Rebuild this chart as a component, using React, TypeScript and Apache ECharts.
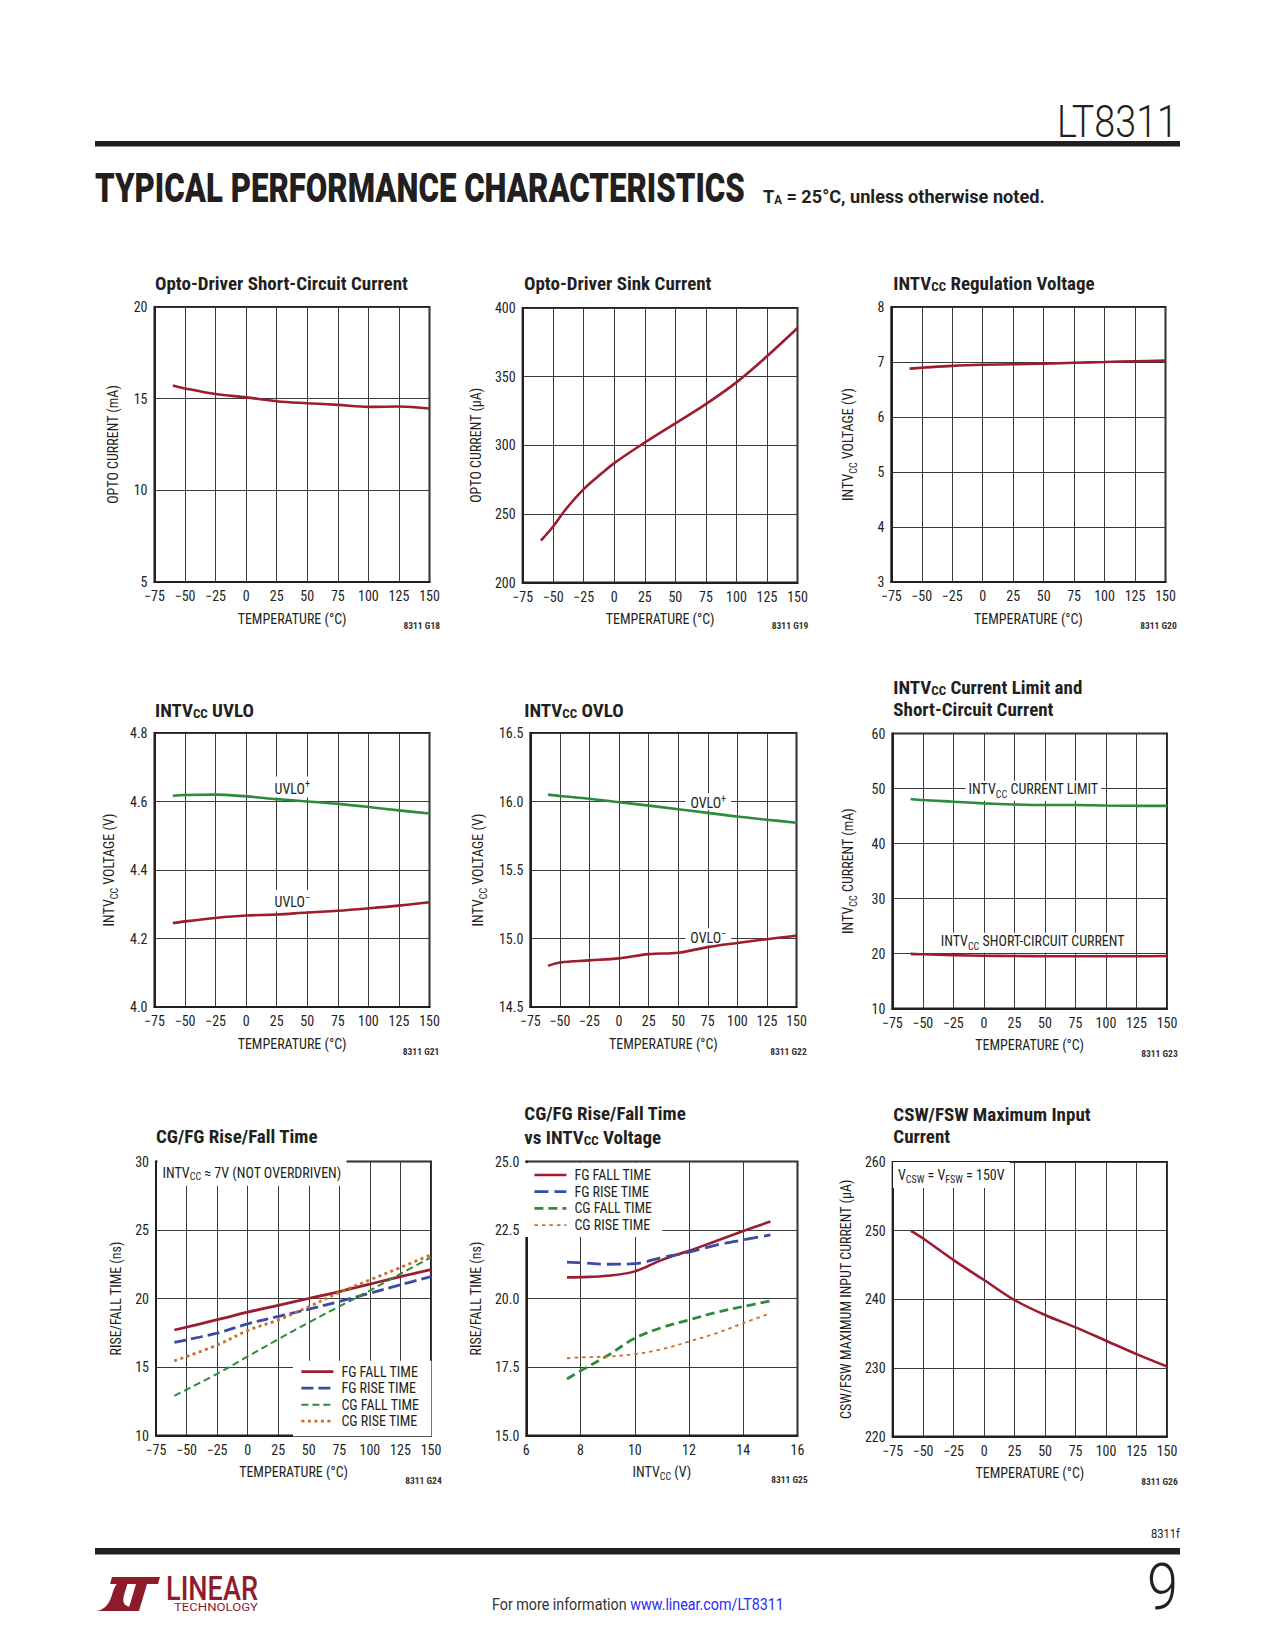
import React, { useEffect, useRef } from "react";
import * as echarts from "echarts";

const FONT = '"Liberation Sans Narrow", "Roboto Condensed", Roboto, "Liberation Sans", sans-serif';
const HFONT = 'Roboto, "Liberation Sans", sans-serif';
const INK = "#231f20";
const GRIDC = "#3a3a3a";
const RED = "#9d1c2f";
const GREEN = "#2e8b3c";
const BLUE = "#3a4ba6";
const ORANGE = "#c96f2a";
const LOGO = "#8e1b2c";
const LINK = "#2b2bf5";

// ---------------- data ----------------
const tempX = [-60, -50, -25, 0, 25, 50, 75, 100, 125, 150];
const optoShort = [15.72, 15.56, 15.25, 15.07, 14.86, 14.75, 14.66, 14.55, 14.57, 14.46];
const sinkX = [-60, -50, -40, -25, -10, 0, 25, 50, 75, 100, 125, 150];
const optoSink = [230.6, 240.8, 253, 268, 279.7, 287, 302, 316, 330, 345.8, 364.8, 385.4];
const intvccReg = [6.88, 6.895, 6.93, 6.95, 6.96, 6.97, 6.985, 7.0, 7.015, 7.025];
const uvloPlus = [4.617, 4.619, 4.62, 4.615, 4.607, 4.6, 4.593, 4.584, 4.574, 4.565];
const uvloMinus = [4.245, 4.25, 4.26, 4.267, 4.27, 4.276, 4.281, 4.288, 4.296, 4.306];
const ovloPlus = [16.05, 16.04, 16.02, 15.995, 15.97, 15.944, 15.917, 15.89, 15.867, 15.845];
const ovloMinus = [14.8, 14.825, 14.84, 14.855, 14.886, 14.896, 14.937, 14.967, 14.995, 15.02];
const currentLimit = [48.1, 47.9, 47.6, 47.3, 47.1, 47.0, 47.0, 46.9, 46.85, 46.85];
const shortCircuit = [19.94, 19.85, 19.7, 19.6, 19.55, 19.5, 19.5, 19.5, 19.5, 19.55];
const rfTempX = [-60, -25, 0, 25, 50, 75, 100, 125, 150];
const fgFallT = [17.7, 18.45, 19.0, 19.5, 20.0, 20.5, 21.05, 21.6, 22.1];
const fgRiseT = [16.8, 17.47, 18.15, 18.69, 19.22, 19.78, 20.39, 21.0, 21.6];
const cgFallT = [12.9, 14.5, 15.77, 17.03, 18.25, 19.42, 20.58, 21.8, 23.0];
const cgRiseT = [15.45, 16.6, 17.66, 18.44, 19.4, 20.44, 21.36, 22.26, 23.2];
const intvX = [7.5, 8, 9, 10, 11, 12, 13, 14, 15];
const fgFallV = [20.77, 20.78, 20.83, 20.99, 21.41, 21.74, 22.1, 22.46, 22.81];
const fgRiseV = [21.33, 21.31, 21.25, 21.27, 21.5, 21.69, 21.95, 22.14, 22.32];
const cgFallV = [17.06, 17.36, 17.92, 18.55, 18.94, 19.22, 19.49, 19.71, 19.91];
const cgRiseV = [17.82, 17.85, 17.88, 17.97, 18.15, 18.43, 18.73, 19.1, 19.46];
const maxInput = [249.96, 248.85, 245.7, 242.8, 239.88, 237.7, 235.9, 233.96, 232.0, 230.2];
const rfNames = ["FG FALL TIME", "FG RISE TIME", "CG FALL TIME", "CG RISE TIME"];

// ---------------- logo shape ----------------
const LOGO_D =
  "M0 34 C9 33 13 27 16 18 C18 11 20 7 23 5 L32 5 L28 18 C26 25 28 30 36 30 L35 34 Z " +
  "M16 0 L64 0 L62 7 L51 7 L43 34 L32 34 L40 7 L14 7 Z";
echarts.graphic.registerShape("ltLogo", echarts.graphic.extendPath(LOGO_D, {}));

// ---------------- helpers ----------------
const minusFmt = (v: number) => (v < 0 ? "\u2212" + Math.abs(v) : String(v));
const fixedFmt = (d: number) => (v: number) => v.toFixed(d);
const SUB_AXIS = { s: { fontSize: 10, lineHeight: 10, verticalAlign: "bottom", fontFamily: FONT, color: INK } };

function xAxisCfg(min: number, max: number, interval: number, name: string, rich = false, fmt: any = minusFmt) {
  return {
    type: "value", min, max, interval,
    axisLine: { show: true, onZero: false, lineStyle: { color: INK, width: 2 } },
    axisTick: { show: false },
    splitLine: { show: true, lineStyle: { color: GRIDC, width: 1 } },
    axisLabel: { color: INK, fontSize: 14, fontFamily: FONT, margin: 7, formatter: fmt },
    name, nameLocation: "middle", nameGap: rich ? 26 : 28.5,
    nameTextStyle: { color: INK, fontSize: 14, fontFamily: FONT, lineHeight: rich ? 20 : 16, rich: rich ? SUB_AXIS : undefined },
  };
}
function yAxisCfg(min: number, max: number, interval: number, name: string, gap: number, rich = false, fmt: any = (v: number) => String(v)) {
  return {
    type: "value", min, max, interval,
    axisLine: { show: true, onZero: false, lineStyle: { color: INK, width: 2 } },
    axisTick: { show: false },
    splitLine: { show: true, lineStyle: { color: GRIDC, width: 1 } },
    axisLabel: { color: INK, fontSize: 14, fontFamily: FONT, margin: 7, formatter: fmt },
    name, nameLocation: "middle", nameGap: gap,
    nameTextStyle: { color: INK, fontSize: 14, fontFamily: FONT, lineHeight: rich ? 20 : 16, rich: rich ? SUB_AXIS : undefined },
  };
}
function ln(name: string, xs: number[], ys: number[], color: string, width = 2.6, type: any = "solid", extra: any = {}) {
  return {
    type: "line", name, data: xs.map((x, i) => [x, ys[i]]), symbol: "none", smooth: 0.35, silent: true,
    lineStyle: { color, width, type, cap: "butt" }, itemStyle: { color }, z: 3, ...extra,
  };
}
function tag(x: number, y: number, text: string, rich: any, pad: number[] = [2, 3], lh = 18) {
  return {
    coord: [x, y], symbol: "rect", symbolSize: 1, itemStyle: { color: "rgba(0,0,0,0)" },
    label: { show: true, position: "inside", formatter: text, color: INK, fontSize: 14, fontFamily: FONT, backgroundColor: "#fff", padding: pad, lineHeight: lh, rich },
  };
}
function marks(...data: any[]) {
  return { markPoint: { silent: true, z: 2, data } };
}
const SUP = {
  n: { fontSize: 14, lineHeight: 17, verticalAlign: "bottom", color: INK, fontFamily: FONT },
  p: { fontSize: 10, lineHeight: 10, verticalAlign: "top", color: INK, fontFamily: FONT },
};
const SUBL = {
  n: { fontSize: 14, lineHeight: 18, verticalAlign: "top", color: INK, fontFamily: FONT },
  s: { fontSize: 10, lineHeight: 10, verticalAlign: "bottom", color: INK, fontFamily: FONT },
};

function titleEl(x: number, y: number, text: string, rich = false) {
  const style: any = { text, fill: INK, fontFamily: FONT, fontSize: 19, fontWeight: "bold", align: "left", verticalAlign: "middle" };
  let yy = y;
  if (rich) {
    yy = y - 2.5;
    style.lineHeight = 25;
    style.rich = {
      b: { fontSize: 19, fontWeight: "bold", fontFamily: FONT, fill: INK, lineHeight: 25, verticalAlign: "bottom" },
      s: { fontSize: 13, fontWeight: "bold", fontFamily: FONT, fill: INK, lineHeight: 13, verticalAlign: "bottom" },
    };
  }
  return { type: "text", x, y: yy, silent: true, style };
}
function codeEl(x: number, y: number, text: string) {
  return { type: "text", x, y, silent: true, style: { text, fill: "#333", fontFamily: FONT, fontSize: 9.5, fontWeight: "bold", align: "right", verticalAlign: "middle" } };
}
function noteEl(x: number, y: number, text: string) {
  return {
    type: "text", x, y, z: 50, silent: true,
    style: {
      text, fill: INK, fontFamily: FONT, fontSize: 14, lineHeight: 18, align: "left", verticalAlign: "middle",
      backgroundColor: "#fff", padding: [4, 5, 4, 5],
      rich: { s: { fontSize: 10, lineHeight: 10, verticalAlign: "bottom", fill: INK, fontFamily: FONT } },
    },
  };
}
function base(grid: number[], xAxis: any, yAxis: any, series: any[], graphic: any[], legend: any = { show: false }) {
  return {
    animation: false,
    textStyle: { fontFamily: FONT },
    grid: { left: grid[0], top: grid[1], width: grid[2], height: grid[3], show: true, borderColor: INK, borderWidth: 2, backgroundColor: "rgba(0,0,0,0)" },
    xAxis, yAxis, series, graphic, legend,
  };
}
function rfLegend(left: number, top: number, gap: number, pad: number[]) {
  return {
    show: true, orient: "vertical", left, top, itemWidth: 32, itemHeight: 14, itemGap: gap, padding: pad,
    backgroundColor: "#fff", selectedMode: false, data: rfNames, z: 20,
    itemStyle: { opacity: 0, borderWidth: 0 },
    lineStyle: { width: "inherit" },
    textStyle: { color: INK, fontSize: 14, fontFamily: FONT, padding: [0, 0, 0, 3] },
  };
}

// ---------------- charts ----------------
type ChartDef = { block: number[]; option: any };

const charts: ChartDef[] = [
  {
    block: [90, 250, 370, 395],
    option: base([64.5, 57, 275, 275], xAxisCfg(-75, 150, 25, "TEMPERATURE (°C)"), yAxisCfg(5, 20, 5, "OPTO CURRENT (mA)", 33.6),
      [ln("Opto Current", tempX, optoShort, RED)],
      [titleEl(65, 33, "Opto-Driver Short-Circuit Current"), codeEl(350, 375.7, "8311 G18")]),
  },
  {
    block: [460, 250, 370, 395],
    option: base([62.5, 58, 275, 274.5], xAxisCfg(-75, 150, 25, "TEMPERATURE (°C)"), yAxisCfg(200, 400, 50, "OPTO CURRENT (µA)", 34.7),
      [ln("Opto Sink Current", sinkX, optoSink, RED)],
      [titleEl(64, 33, "Opto-Driver Sink Current"), codeEl(348.3, 375.7, "8311 G19")]),
  },
  {
    block: [830, 250, 370, 395],
    option: base([60.5, 57, 275, 275], xAxisCfg(-75, 150, 25, "TEMPERATURE (°C)"), yAxisCfg(3, 8, 1, "INTV{s|CC} VOLTAGE (V)", 33.3, true),
      [ln("INTVCC", tempX, intvccReg, RED)],
      [titleEl(63.3, 33, "{b|INTV}{s|CC}{b| Regulation Voltage}", true), codeEl(346.7, 375.7, "8311 G20")]),
  },
  {
    block: [90, 665, 370, 400],
    option: base([64.5, 68, 275, 274], xAxisCfg(-75, 150, 25, "TEMPERATURE (°C)"), yAxisCfg(4.0, 4.8, 0.2, "INTV{s|CC} VOLTAGE (V)", 34.3, true, fixedFmt(1)),
      [
        ln("UVLO+", tempX, uvloPlus, GREEN, 2.6, "solid", marks(tag(37.7, 4.642, "{n|UVLO}{p|+}", SUP))),
        ln("UVLO-", tempX, uvloMinus, RED, 2.6, "solid", marks(tag(37.7, 4.31, "{n|UVLO}{p|\u2212}", SUP))),
      ],
      [titleEl(65, 45, "{b|INTV}{s|CC}{b| UVLO}", true), codeEl(349.3, 386.7, "8311 G21")]),
  },
  {
    block: [460, 665, 370, 400],
    option: base([61.5, 68, 275, 274], xAxisCfg(-75, 150, 25, "TEMPERATURE (°C)"), yAxisCfg(14.5, 16.5, 0.5, "INTV{s|CC} VOLTAGE (V)", 33.7, true, fixedFmt(1)),
      [
        ln("OVLO+", tempX, ovloPlus, GREEN, 2.6, "solid", marks(tag(75.4, 16.0, "{n|OVLO}{p|+}", SUP, [0, 5], 16))),
        ln("OVLO-", tempX, ovloMinus, RED, 2.6, "solid", marks(tag(75.4, 15.012, "{n|OVLO}{p|\u2212}", SUP, [0, 5], 16))),
      ],
      [titleEl(64.3, 45, "{b|INTV}{s|CC}{b| OVLO}", true), codeEl(346.7, 386.7, "8311 G22")]),
  },
  {
    block: [830, 665, 370, 400],
    option: base([62, 68.5, 275, 275], xAxisCfg(-75, 150, 25, "TEMPERATURE (°C)"), yAxisCfg(10, 60, 10, "INTV{s|CC} CURRENT (mA)", 34.3, true),
      [
        ln("Current Limit", tempX, currentLimit, GREEN, 2.6, "solid", marks(tag(40.6, 49.6, "{n|INTV}{s|CC}{n| CURRENT LIMIT}", SUBL, [1, 3]))),
        ln("Short-Circuit", tempX, shortCircuit, RED, 2.6, "solid", marks(tag(40, 21.96, "{n|INTV}{s|CC}{n| SHORT-CIRCUIT CURRENT}", SUBL, [1, 3]))),
      ],
      [titleEl(63.3, 22, "{b|INTV}{s|CC}{b| Current Limit and}", true), titleEl(63.3, 44.5, "Short-Circuit Current"), codeEl(347.7, 388.3, "8311 G23")]),
  },
  {
    block: [90, 1085, 370, 410],
    option: base([66, 76.5, 275, 274], xAxisCfg(-75, 150, 25, "TEMPERATURE (°C)"), yAxisCfg(10, 30, 5, "RISE/FALL TIME (ns)", 26.6),
      [
        ln(rfNames[0], rfTempX, fgFallT, RED, 2.8),
        ln(rfNames[1], rfTempX, fgRiseT, BLUE, 2.8, [12, 5]),
        ln(rfNames[2], rfTempX, cgFallT, GREEN, 2, [7, 4]),
        ln(rfNames[3], rfTempX, cgRiseT, ORANGE, 2.8, [3, 3.5]),
      ],
      [titleEl(66, 51.7, "CG/FG Rise/Fall Time"), noteEl(67.5, 87.7, "INTV{s|CC} \u2248 7V (NOT OVERDRIVEN)"), codeEl(351.7, 395, "8311 G24")],
      rfLegend(203, 275.7, 2.5, [4, 12, 8, 7])),
  },
  {
    block: [460, 1085, 370, 410],
    option: base([62.5, 76.5, 275, 274], xAxisCfg(6, 16, 2, "INTV{s|CC} (V)", true, (v: number) => String(v)), yAxisCfg(15, 25, 2.5, "RISE/FALL TIME (ns)", 37.3, false, fixedFmt(1)),
      [
        ln(rfNames[0], intvX, fgFallV, RED, 2.6),
        ln(rfNames[1], intvX, fgRiseV, BLUE, 2.8, [14, 6]),
        ln(rfNames[2], intvX, cgFallV, GREEN, 2.8, [9, 5]),
        ln(rfNames[3], intvX, cgRiseV, ORANGE, 1.8, [3.5, 4]),
      ],
      [titleEl(64.3, 28.7, "CG/FG Rise/Fall Time"), titleEl(64.3, 51.7, "{b|vs INTV}{s|CC}{b| Voltage}", true), codeEl(347.7, 394.3, "8311 G25")],
      rfLegend(63.5, 78, 2.7, [5, 10, 5, 9.5])),
  },
  {
    block: [830, 1085, 370, 410],
    option: base([62, 77, 275, 274.5], xAxisCfg(-75, 150, 25, "TEMPERATURE (°C)"), yAxisCfg(220, 260, 10, "CSW/FSW MAXIMUM INPUT CURRENT (µA)", 36.3),
      [ln("Max Input Current", tempX, maxInput, RED)],
      [titleEl(63.3, 29, "CSW/FSW Maximum Input"), titleEl(63.3, 51.5, "Current"), noteEl(63, 90, "V{s|CSW} = V{s|FSW} = 150V"), codeEl(347.7, 396.7, "8311 G26")]),
  },
];

// ---------------- page decorations ----------------
function measure(text: string, font: string): number {
  const ctx = document.createElement("canvas").getContext("2d")!;
  ctx.font = font;
  return ctx.measureText(text).width;
}
function fitText(x: number, y: number, text: string, size: number, weight: any, target: number, align: string, fill: string, family = HFONT) {
  const w = measure(text, `${weight} ${size}px ${family}`);
  return {
    type: "text", x, y, scaleX: target / w, silent: true,
    style: { text, fontSize: size, fontWeight: weight, fontFamily: family, fill, align, verticalAlign: "middle" },
  };
}
function pageOption() {
  const taMain = " = 25°C, unless otherwise noted.";
  const taW = measure("T" + taMain, `bold 19px ${HFONT}`) + measure("A", `bold 12px ${HFONT}`);
  const infoA = "For more information ";
  const infoB = "www.linear.com/LT8311";
  const infoW = measure(infoA + infoB, `normal 16px ${HFONT}`);
  return {
    animation: false,
    backgroundColor: "#fff",
    graphic: [
      { type: "rect", silent: true, shape: { x: 95, y: 141, width: 1085, height: 5.5 }, style: { fill: INK } },
      { type: "rect", silent: true, shape: { x: 95, y: 1548, width: 1085, height: 6.5 }, style: { fill: INK } },
      fitText(1178, 121.5, "LT8311", 45, 300, 121, "right", INK),
      fitText(95, 188.5, "TYPICAL PERFORMANCE CHARACTERISTICS", 40, 900, 650, "left", INK),
      {
        type: "text", x: 763, y: 194, scaleX: 282 / taW, silent: true,
        style: {
          text: "{t|T}{a|A}{t|" + taMain + "}", fill: INK, fontFamily: HFONT, fontSize: 19, fontWeight: "bold",
          lineHeight: 24, align: "left", verticalAlign: "middle",
          rich: {
            t: { fontSize: 19, fontWeight: "bold", fontFamily: HFONT, fill: INK, lineHeight: 24, verticalAlign: "bottom" },
            a: { fontSize: 12, fontWeight: "bold", fontFamily: HFONT, fill: INK, lineHeight: 12, verticalAlign: "bottom" },
          },
        },
      },
      fitText(1180, 1533.5, "8311f", 12, "normal", 29, "right", INK),
      fitText(1178, 1587, "9", 65, 300, 31, "right", INK),
      {
        type: "text", x: 492, y: 1605, scaleX: 292 / infoW, silent: true,
        style: {
          text: "{g|" + infoA + "}{l|" + infoB + "}", fontFamily: HFONT, fontSize: 16, fill: "#333", align: "left", verticalAlign: "middle",
          rich: {
            g: { fontSize: 16, fontFamily: HFONT, fill: "#333" },
            l: { fontSize: 16, fontFamily: HFONT, fill: LINK },
          },
        },
      },
      { type: "ltLogo", x: 96, y: 1577, scaleX: 1, scaleY: 1, silent: true, style: { fill: LOGO } },
      fitText(166, 1588, "LINEAR", 34, 500, 92, "left", LOGO),
      fitText(174, 1607.5, "TECHNOLOGY", 11, "normal", 84, "left", LOGO),
    ],
  };
}

// ---------------- components ----------------
function EChart({ build, left, top, width, height }: { build: () => any; left: number; top: number; width: number; height: number }) {
  const ref = useRef<HTMLDivElement>(null);
  useEffect(() => {
    const chart = echarts.init(ref.current!, null, { renderer: "svg" });
    chart.setOption(build());
    return () => chart.dispose();
  }, []);
  return <div ref={ref} style={{ position: "absolute", left, top, width, height }} />;
}

export default function App() {
  return (
    <div style={{ position: "absolute", left: 0, top: 0, width: 1275, height: 1650, background: "#fff", overflow: "hidden" }}>
      <EChart build={pageOption} left={0} top={0} width={1275} height={1650} />
      {charts.map((c, i) => (
        <EChart key={i} build={() => c.option} left={c.block[0]} top={c.block[1]} width={c.block[2]} height={c.block[3]} />
      ))}
    </div>
  );
}
